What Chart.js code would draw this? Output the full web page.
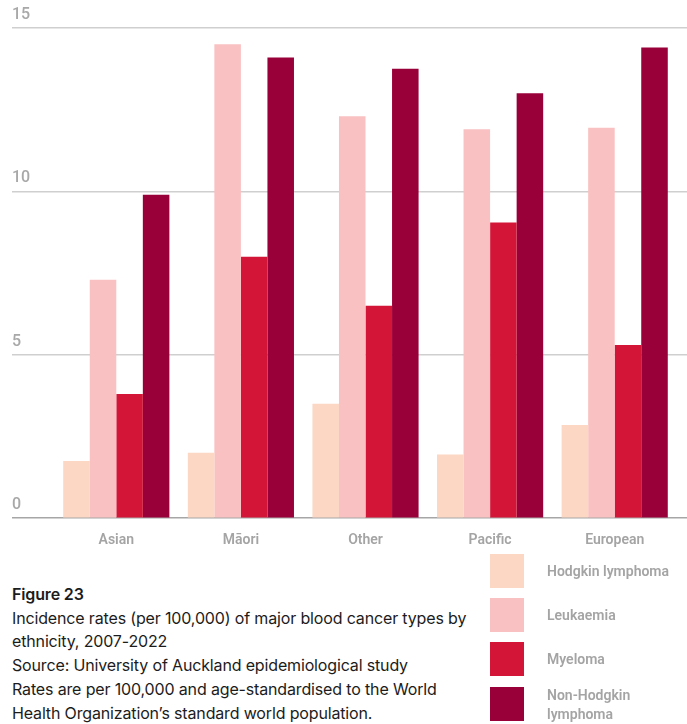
<!DOCTYPE html>
<html>
<head>
<meta charset="utf-8">
<script src="https://cdn.jsdelivr.net/npm/chart.js@4.4.1/dist/chart.umd.min.js"></script>
<style>
  html, body { margin: 0; padding: 0; background: #fff; }
  #wrap { position: relative; width: 687px; height: 724px; overflow: hidden; }
  #chartBox { position: absolute; left: 0; top: 0; width: 687px; height: 555px; }
  #caption {
    position: absolute; left: 12px; top: 583px;
    font-family: 'Inter', sans-serif; font-size: 16px; line-height: 23.7px;
    color: #1c1c1c; white-space: nowrap; letter-spacing: -0.15px;
  }
  #caption b { font-weight: 600; font-size: 16px; }
  #legend { position: absolute; left: 490px; top: 554px; }
  .leg-row { position: absolute; left: 0; width: 197px; height: 34px; }
  .leg-sw { position: absolute; left: 0; top: 0; width: 34px; height: 34px; }
  .leg-tx {
    position: absolute; left: 57px; top: 0; width: 130px;
    font-family: 'Roboto', sans-serif; font-weight: 600; font-size: 14px;
    line-height: 19px; color: #a4a4a4;
  }
</style>
</head>
<body>
<div id="wrap">
  <div id="chartBox"><canvas id="c"></canvas></div>
  <div id="caption">
    <b>Figure 23</b><br>
    Incidence rates (per 100,000) of major blood cancer types by<br>
    ethnicity, 2007-2022<br>
    Source: University of Auckland epidemiological study<br>
    Rates are per 100,000 and age-standardised to the World<br>
    Health Organization’s standard world population.
  </div>
  <div id="legend"></div>
</div>
<script>
// categories and series values (rate per 100,000)
const ethnicities = ['Asian', 'Māori', 'Other', 'Pacific', 'European'];
const hodgkin    = [1.75, 2.0, 3.5, 1.95, 2.85];
const leukaemia  = [7.3, 14.5, 12.3, 11.9, 11.95];
const myeloma    = [3.8, 8.0, 6.5, 9.05, 5.3];
const nonHodgkin = [9.9, 14.1, 13.75, 13.0, 14.4];
const yTicks = [0, 5, 10, 15];

const seriesNames  = ['Hodgkin lymphoma', 'Leukaemia', 'Myeloma', 'Non-Hodgkin lymphoma'];
const seriesColors = ['#fbd7c4', '#f9c1c1', '#d31537', '#990039'];
const seriesData   = [hodgkin, leukaemia, myeloma, nonHodgkin];

const datasets = seriesNames.map((name, i) => ({
  label: name,
  data: seriesData[i],
  backgroundColor: seriesColors[i],
  borderWidth: 0,
  categoryPercentage: 0.852,
  barPercentage: 1.0
}));

const gridColor = ctx => ctx.tick && ctx.tick.value === 0 ? '#a6a6a6' : '#cfcfcf';

new Chart(document.getElementById('c'), {
  type: 'bar',
  data: { labels: ethnicities, datasets },
  options: {
    responsive: true,
    maintainAspectRatio: false,
    animation: false,
    layout: { padding: { left: 12, right: 0, top: 28, bottom: 0 } },
    plugins: { legend: { display: false }, tooltip: { enabled: false } },
    scales: {
      x: {
        grid: { display: false },
        border: { display: false },
        ticks: {
          color: '#a4a4a4', padding: 6,
          font: { family: 'Roboto', size: 14, weight: '600' }
        }
      },
      y: {
        min: 0, max: 15,
        afterFit(scale) { scale.width = 42; },
        afterBuildTicks(scale) { scale.ticks = yTicks.map(v => ({ value: v })); },
        border: { display: false },
        grid: { color: gridColor, lineWidth: 1.5, drawTicks: true, tickLength: 42, tickColor: gridColor },
        ticks: {
          crossAlign: 'far', padding: 0, labelOffset: -13,
          color: '#a8a8a8',
          font: { family: 'Roboto', size: 16, weight: '500' }
        }
      },
      yRight: {
        position: 'right',
        min: 0, max: 15,
        afterFit(scale) { scale.width = 10; },
        afterBuildTicks(scale) { scale.ticks = yTicks.map(v => ({ value: v })); },
        border: { display: false },
        grid: { drawOnChartArea: false, color: gridColor, lineWidth: 1.5, tickLength: 10, tickColor: gridColor },
        ticks: { display: false }
      }
    }
  }
});

// legend, built from the same series arrays
const legend = document.getElementById('legend');
const rowTops = [0, 44, 88, 133];
seriesNames.forEach((name, i) => {
  const row = document.createElement('div');
  row.className = 'leg-row';
  row.style.top = rowTops[i] + 'px';
  const twoLine = name.length > 18;
  row.innerHTML = `<div class="leg-sw" style="background:${seriesColors[i]}"></div>
    <div class="leg-tx" style="top:${twoLine ? -1 : 8}px">${name}</div>`;
  legend.appendChild(row);
});
</script>
</body>
</html>
